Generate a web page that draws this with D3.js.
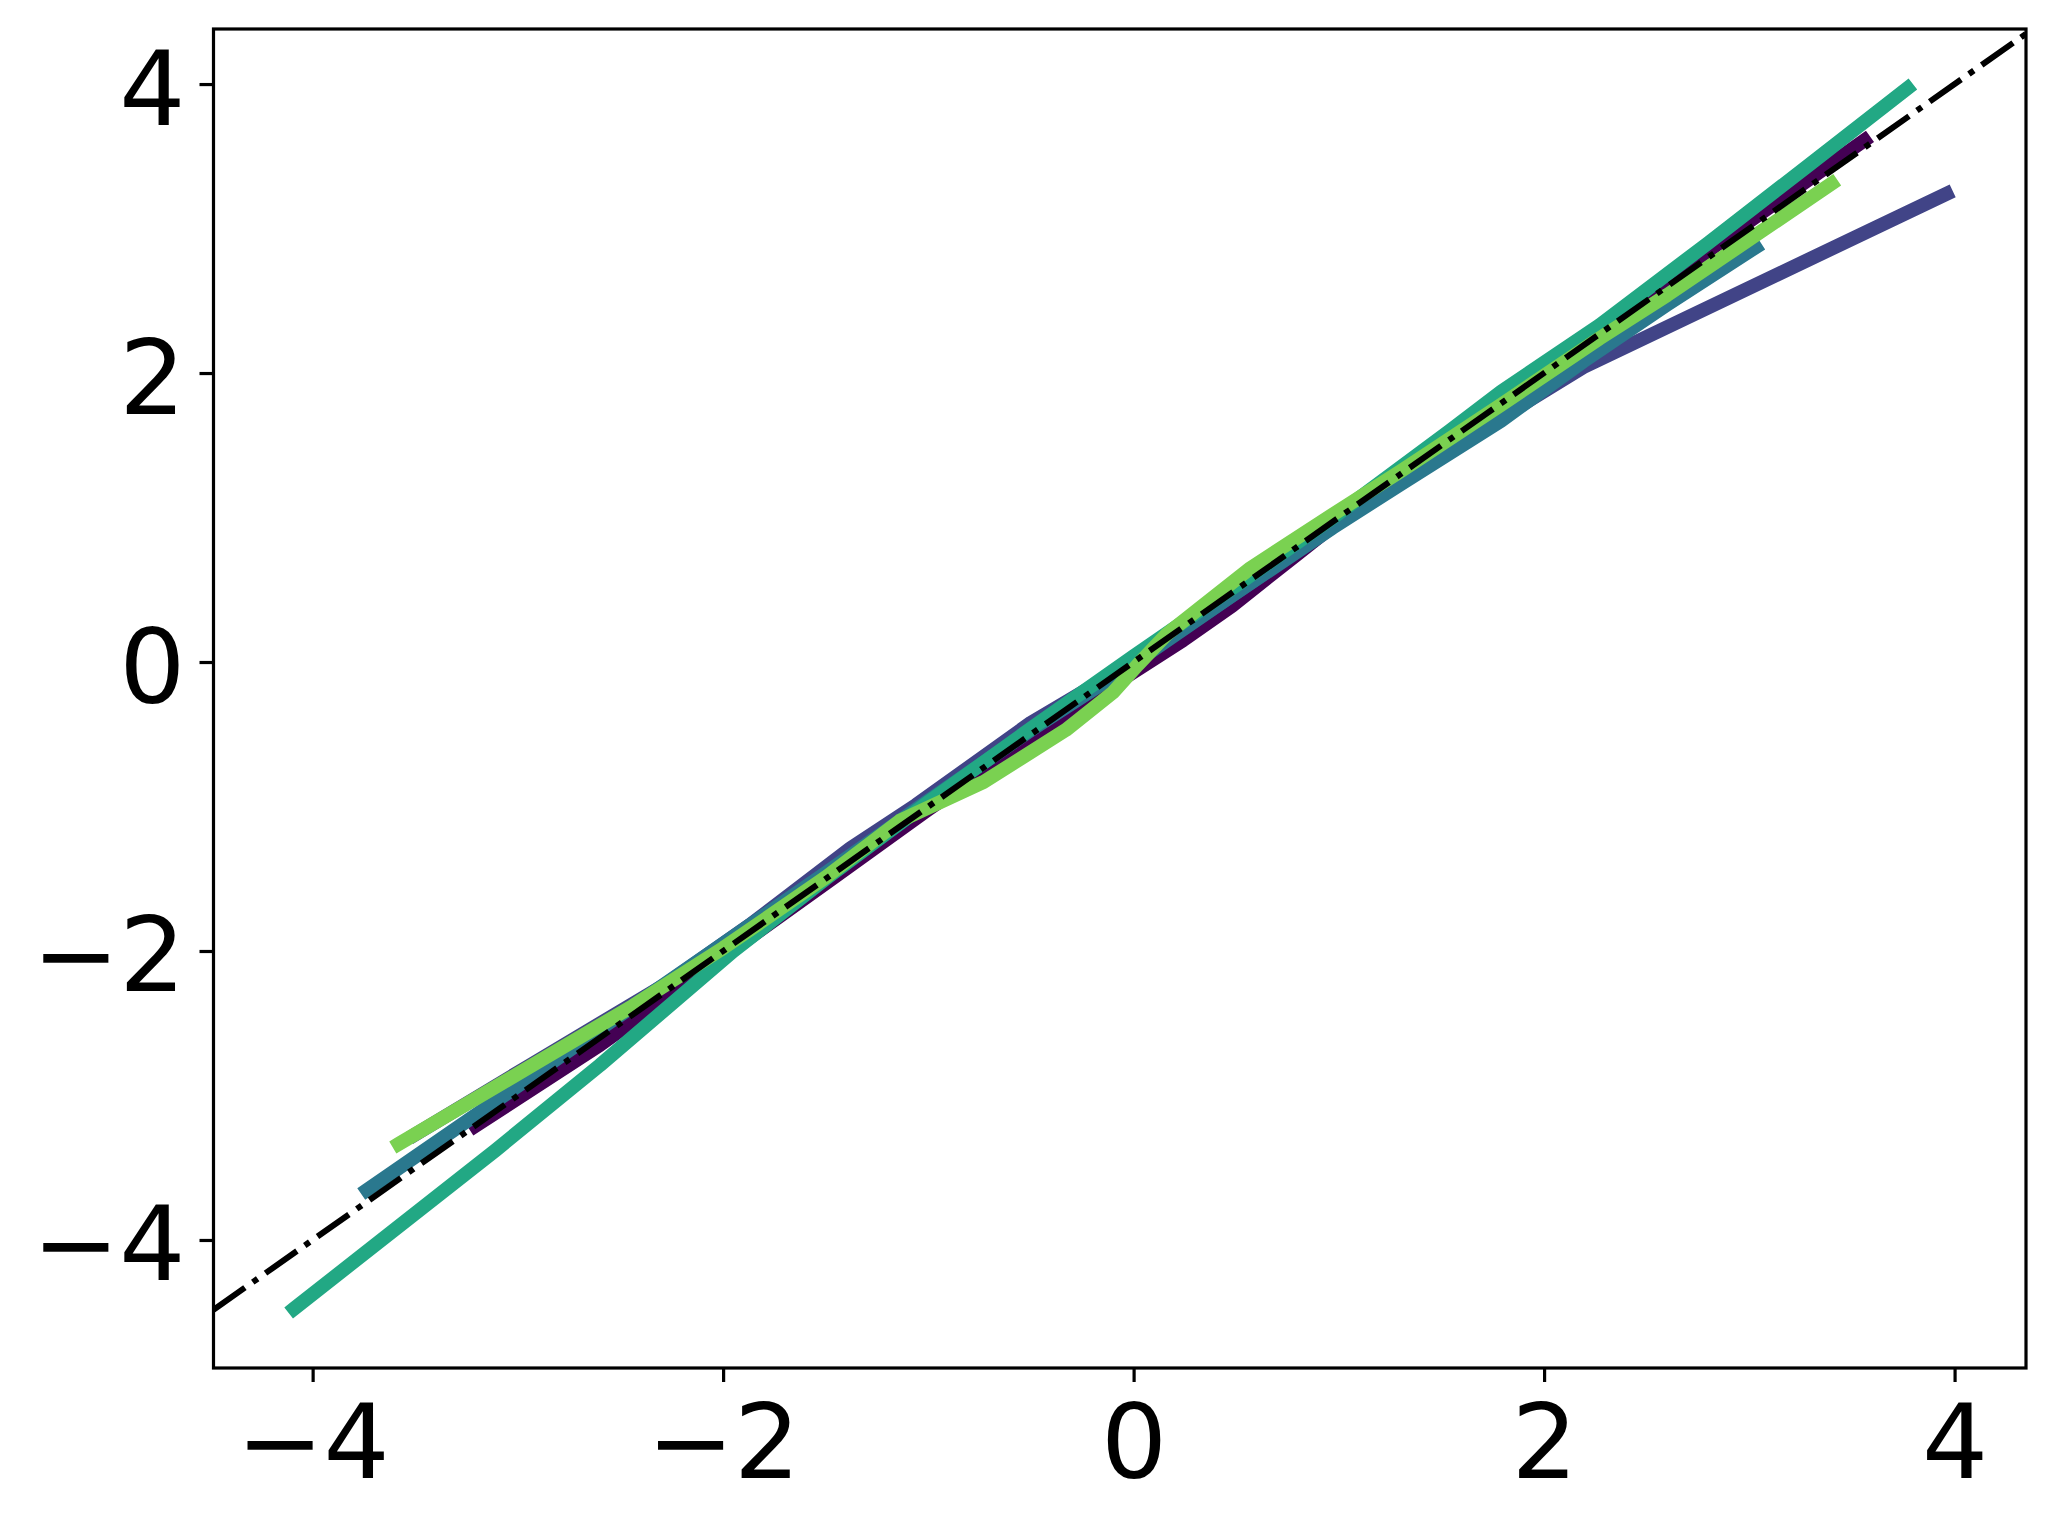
<!DOCTYPE html>
<html><head><meta charset="utf-8">
<script src="https://cdn.jsdelivr.net/npm/d3@7"></script>
<style>body{margin:0;background:#fff}</style>
</head><body><svg id="c" width="2056" height="1529"></svg>
<script>
// ---- data ----
const xTicks = [-4, -2, 0, 2, 4];
const yTicks = [-4, -2, 0, 2, 4];
const xDomain = [-4.483, 4.348];
const yDomain = [-4.886, 4.381];
const colors = ["#440154", "#414487", "#2a788e", "#22a884", "#7ad151"];

const s1x = [-3.207, -2.6, -2.0, -1.47, -1.0, -0.5, -0.1, 0.24, 0.48, 0.8, 1.2, 1.6, 2.0, 2.5, 3.0, 3.56];
const s1y = [-3.21, -2.65, -2.04, -1.50, -1.02, -0.53, -0.16, 0.15, 0.39, 0.75, 1.2, 1.63, 2.04, 2.54, 3.05, 3.61];

const s2x = [-3.5, -2.94, -2.28, -1.87, -1.38, -1.06, -0.5, 0.0, 0.5, 1.0, 1.5, 2.19, 3.96];
const s2y = [-3.27, -2.79, -2.23, -1.82, -1.29, -0.99, -0.42, 0.0, 0.48, 0.97, 1.44, 2.04, 3.24];

const s3x = [-3.735, -3.2, -2.6, -2.0, -1.5, -1.0, -0.5, 0.0, 0.48, 0.97, 1.3, 1.79, 2.19, 2.6, 3.03];
const s3y = [-3.655, -3.13, -2.54, -1.95, -1.46, -0.96, -0.47, -0.01, 0.46, 0.93, 1.23, 1.67, 2.08, 2.475, 2.87];

const s4x = [-4.09, -3.11, -2.6, -1.95, -1.5, -1.0, -0.5, 0.0, 0.5, 1.0, 1.54, 1.79, 2.27, 2.8, 3.3, 3.77];
const s4y = [-4.475, -3.38, -2.79, -2.0, -1.5, -0.97, -0.46, 0.04, 0.53, 1.03, 1.6, 1.87, 2.33, 2.9, 3.45, 3.97];

const s5x = [-3.58, -2.94, -2.44, -2.0, -1.5, -1.14, -0.73, -0.33, -0.1, 0.02, 0.16, 0.32, 0.57, 0.97, 1.3, 1.79, 2.27, 2.6, 3.40];
const s5y = [-3.335, -2.80, -2.38, -1.98, -1.49, -1.10, -0.83, -0.47, -0.21, -0.02, 0.19, 0.37, 0.65, 1.02, 1.32, 1.78, 2.24, 2.54, 3.31];

// ---- layout ----
const L = 213.5, R = 2026, T = 29, B = 1368;
const svg = d3.select("#c");
svg.append("rect").attr("width", 2056).attr("height", 1529).attr("fill", "#fff");

const x = d3.scaleLinear().domain(xDomain).range([L, R]);
const y = d3.scaleLinear().domain(yDomain).range([B, T]);

svg.append("clipPath").attr("id", "clip")
  .append("rect").attr("x", L).attr("y", T).attr("width", R - L).attr("height", B - T);

const plot = svg.append("g").attr("clip-path", "url(#clip)");

const series = [[s1x, s1y], [s2x, s2y], [s3x, s3y], [s4x, s4y], [s5x, s5y]];
const line = d3.line().x(d => x(d[0])).y(d => y(d[1]));

series.forEach((s, i) => {
  const pts = s[0].map((v, k) => [v, s[1][k]]);
  plot.append("path")
    .attr("d", line(pts))
    .attr("fill", "none")
    .attr("stroke", colors[i])
    .attr("stroke-width", 14)
    .attr("stroke-linecap", "square")
    .attr("stroke-linejoin", "round");
});

// identity reference line
plot.append("path")
  .attr("d", line([[xDomain[0], xDomain[0]], [xDomain[1], xDomain[1]]]))
  .attr("fill", "none")
  .attr("stroke", "#000")
  .attr("stroke-width", 6)
  .attr("stroke-dasharray", "38.4,9.6,6,9.6");

// ---- axes ----
const fmt = d => (d < 0 ? "\u2212" : "") + Math.abs(d);
const xAxis = svg.append("g").attr("transform", `translate(0,${B})`)
  .call(d3.axisBottom(x).tickValues(xTicks).tickSize(14).tickFormat(fmt));
const yAxis = svg.append("g").attr("transform", `translate(${L},0)`)
  .call(d3.axisLeft(y).tickValues(yTicks).tickSize(14).tickFormat(fmt));

[xAxis, yAxis].forEach(a => {
  a.select(".domain").remove();
  a.selectAll(".tick line").attr("stroke", "#000").attr("stroke-width", 3.2);
  a.selectAll(".tick text")
    .attr("fill", "#000")
    .style("font-family", "'DejaVu Sans'")
    .style("font-size", "104px");
});
xAxis.selectAll(".tick text").attr("y", 110).attr("dy", 0);
yAxis.selectAll(".tick text").attr("x", -28).attr("y", 40).attr("dy", 0);

svg.append("rect")
  .attr("x", L).attr("y", T).attr("width", R - L).attr("height", B - T)
  .attr("fill", "none").attr("stroke", "#000").attr("stroke-width", 3.2);
</script>
</body></html>
